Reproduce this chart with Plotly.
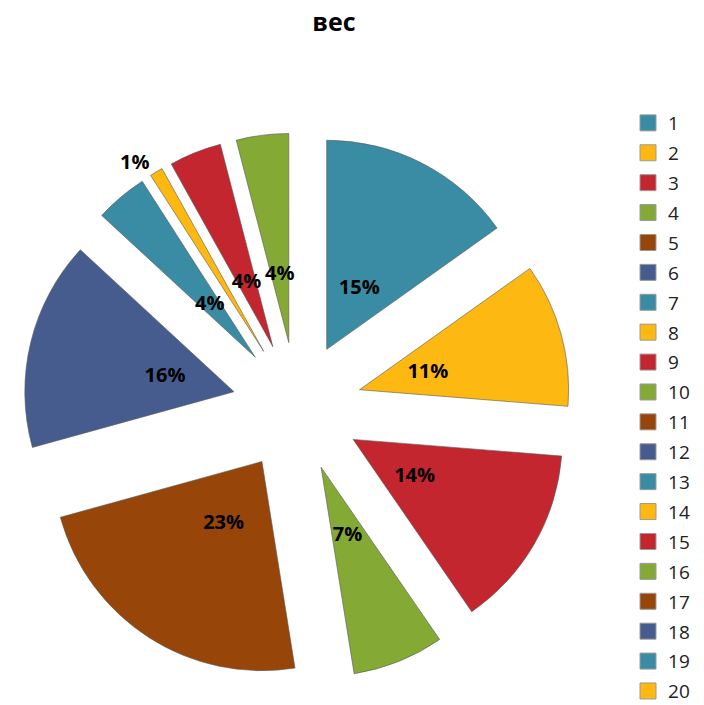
import plotly.graph_objects as go

labels = [str(i) for i in range(1, 21)]
values = [15, 11, 14, 7, 23, 16, 4, 1, 4, 4, 0, 0, 0, 0, 0, 0, 0, 0, 0, 0]
palette = ["#398CA3", "#FDB812", "#C3262E", "#84A935", "#974508", "#475C8E"]
colors = [palette[i % 6] for i in range(20)]

pie_labels = [l for l, v in zip(labels, values) if v > 0]
pie_values = [v for v in values if v > 0]
pie_colors = [c for c, v in zip(colors, values) if v > 0]
total = sum(pie_values)
small = [v / total < 0.02 for v in pie_values]
pct_text = [f"{round(v / total * 100)}%" for v in pie_values]

label_font = dict(family="Open Sans", size=20, color="black", weight="bold")

# helper ring: each slice split into side parts and a centred core that carries the label
ring_vals, ring_text, ring_pos = [], [], []
for v, t, s in zip(pie_values, pct_text, small):
    core = min(v, 4)
    side = (v - core) / 2
    if side > 0:
        ring_vals.append(side); ring_text.append(""); ring_pos.append("none")
    ring_vals.append(core); ring_text.append("" if s else t); ring_pos.append("none" if s else "inside")
    if side > 0:
        ring_vals.append(side); ring_text.append(""); ring_pos.append("none")

fig = go.Figure()
# exploded pie (slices)
fig.add_trace(go.Pie(
    labels=pie_labels, values=pie_values, sort=False, direction="clockwise", rotation=0,
    marker=dict(colors=pie_colors, line=dict(color="rgba(90,90,90,0.6)", width=1)),
    pull=0.31,
    texttemplate=["%{percent:.0%}" if s else "" for s in small],
    textposition=["outside" if s else "none" for s in small],
    outsidetextfont=label_font, automargin=False,
    showlegend=False, hoverinfo="label+percent",
    domain=dict(x=[0.0213, 0.7997], y=[0.0454, 0.8227]),
))
# transparent ring carrying the inside percentage labels
fig.add_trace(go.Pie(
    labels=[f"r{i}" for i in range(len(ring_vals))], values=ring_vals,
    sort=False, direction="clockwise", rotation=0,
    marker=dict(colors=["rgba(0,0,0,0)"] * len(ring_vals), line=dict(width=0)),
    hole=0.774,
    text=ring_text, texttemplate="%{text}",
    textposition=ring_pos,
    insidetextorientation="horizontal",
    insidetextfont=label_font, automargin=False,
    showlegend=False, hoverinfo="skip",
    domain=dict(x=[0.1932, 0.6278], y=[0.2170, 0.6511]),
))
# legend entries for all categories
for lab, col in zip(labels, colors):
    fig.add_trace(go.Scatter(
        x=[None], y=[None], mode="markers", name=lab, legendgroup=lab,
        marker=dict(symbol="square", size=16, color=col, line=dict(color="#9a9a9a", width=1)),
    ))

fig.update_layout(
    width=704, height=705,
    margin=dict(l=0, r=0, t=0, b=0, autoexpand=False),
    paper_bgcolor="white", plot_bgcolor="white",
    title=dict(text="<b>вес</b>", x=0.463, xanchor="center", y=0.980, yanchor="middle",
               font=dict(family="Open Sans", size=25, color="black")),
    xaxis=dict(visible=False), yaxis=dict(visible=False),
    uniformtext=dict(minsize=20, mode="show"),
    legend=dict(x=0.8807, xanchor="left", y=0.8638, yanchor="top",
                font=dict(family="Open Sans", size=19, color="#222"),
                tracegroupgap=2.2, traceorder="grouped", itemsizing="trace",
                maxheight=1000),
)
fig.write_html("out.html")
